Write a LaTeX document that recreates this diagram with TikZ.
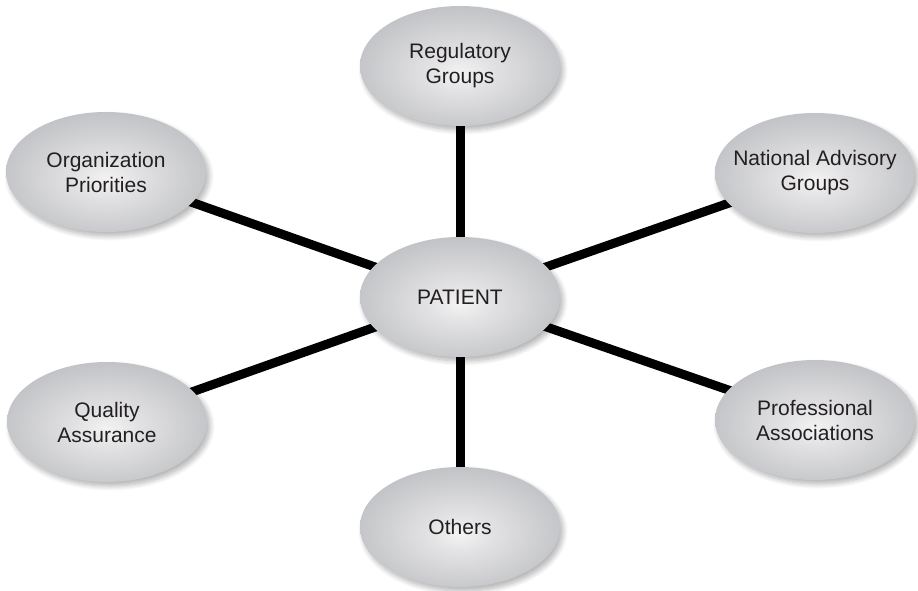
\documentclass[tikz,border=0pt]{standalone}
\usepackage{fontspec}
\setmainfont{Liberation Sans}
\usetikzlibrary{shapes.geometric,shadows.blur}
\pgfdeclarelayer{background}
\pgfsetlayers{background,main}
\definecolor{txt}{HTML}{231F20}
\definecolor{edgegray}{HTML}{A0A1A5}
\definecolor{midgray}{HTML}{C0C1C4}
\definecolor{lightgray}{HTML}{E2E2E4}
\definecolor{hilite}{HTML}{F3F3F3}
\pgfdeclareradialshading{bubbleshade}{\pgfpoint{0bp}{-3bp}}{%
  color(0bp)=(hilite); color(8bp)=(lightgray); color(28bp)=(midgray); color(48bp)=(edgegray); color(70bp)=(edgegray)}
\tikzset{
  bubble/.style={ellipse, minimum width=200pt, minimum height=120pt, inner sep=0pt,
    shading=bubbleshade,
    blur shadow={shadow xshift=3pt, shadow yshift=-4pt, shadow blur steps=8, shadow blur radius=5pt, shadow opacity=30}},
  bubbletext/.style={font=\fontsize{21}{25}\selectfont, text=txt, align=center},
  link/.style={line width=9pt, black}
}
\begin{document}
\begin{tikzpicture}[x=1pt,y=1pt]
\useasboundingbox (0,0) rectangle (918,-590);
\node[bubble, label={[bubbletext]center:Regulatory\\Groups}] (reg) at (460,-66) {};
\node[bubble, label={[bubbletext]center:PATIENT}] (pat) at (460,-297) {};
\node[bubble, label={[bubbletext]center:Organization\\Priorities}] (org) at (106,-172) {};
\node[bubble, label={[bubbletext]center:National Advisory\\Groups}] (nat) at (815,-173) {};
\node[bubble, label={[bubbletext]center:Quality\\Assurance}] (qual) at (107,-422) {};
\node[bubble, label={[bubbletext]center:Professional\\Associations}] (prof) at (815,-420) {};
\node[bubble, label={[bubbletext]center:Others}] (oth) at (460,-527) {};
\begin{pgfonlayer}{background}
\draw[link] (pat.center) -- (reg.center);
\draw[link] (pat.center) -- (org.center);
\draw[link] (pat.center) -- (nat.center);
\draw[link] (pat.center) -- (qual.center);
\draw[link] (pat.center) -- (prof.center);
\draw[link] (pat.center) -- (oth.center);
\end{pgfonlayer}
\end{tikzpicture}
\end{document}
